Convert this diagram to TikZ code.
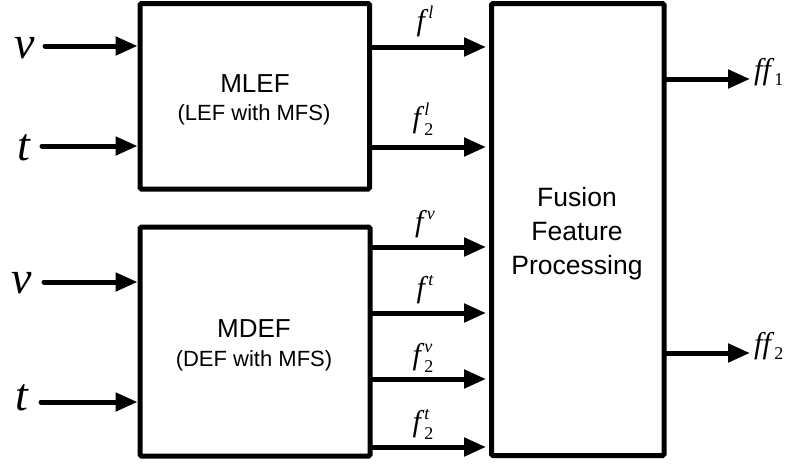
\documentclass[tikz,border=0pt]{standalone}
\usepackage{fontspec}
\setmainfont{Liberation Sans}
\newfontfamily\tms{Liberation Serif}
\usetikzlibrary{arrows.meta,calc}
\newcommand{\smallfnt}{\fontsize{18}{18}\selectfont\tms}
\newcommand{\fsup}[2]{{\tms\itshape #1\/}\raisebox{0.38em}{\smallfnt\itshape #2}}
\newcommand{\fsupsub}[3]{{\tms\itshape #1\/}\rlap{\raisebox{0.40em}{\smallfnt\itshape #2}}\raisebox{-0.28em}{\smallfnt #3}}
\newcommand{\ffsub}[1]{{\tms\itshape ff\/}\raisebox{-0.22em}{\smallfnt #1}}
\begin{document}
\begin{tikzpicture}[x=1pt,y=-1pt,
  box/.style={draw,line width=5pt,rounded corners=1.5pt,inner sep=0pt},
  arr/.style={line width=5pt,line cap=round,-{Triangle[length=22pt,width=18pt]}},
  invar/.style={inner sep=0pt,font=\fontsize{46}{46}\selectfont\tms\itshape},
  flab/.style={inner sep=0pt,font=\fontsize{30}{30}\selectfont},
  title/.style={inner sep=0pt,font=\fontsize{26}{26}\selectfont},
  subtitle/.style={inner sep=0pt,font=\fontsize{22}{22}\selectfont}]
\useasboundingbox (0,0) rectangle (794,463);

% boxes
\node[box,minimum width=229.5pt,minimum height=185.5pt] (mlef) at (254.75,96.25) {};
\node[box,minimum width=230pt,minimum height=229pt] (mdef) at (255,341.5) {};
\node[box,minimum width=172.5pt,minimum height=452pt] (fus) at (577.75,229.5) {};

% box texts
\node[title,anchor=base] (mleft) at (255,92) {MLEF};
\node[subtitle,anchor=base] (mlefs) at (254,120) {(LEF with MFS)};
\node[title,anchor=base] (mdeft) at (254,337) {MDEF};
\node[subtitle,anchor=base] (mdefs) at (254,366) {(DEF with MFS)};
\node[inner sep=0pt,align=center,font=\fontsize{26.5}{34}\selectfont] (fust) at (577,234) {Fusion\\Feature\\Processing};

% input labels
\node[invar,anchor=base] (v1) at (25,58) {v};
\node[invar,anchor=base] (t1) at (24,160) {t};
\node[invar,anchor=base] (v2) at (22,293) {v};
\node[invar,anchor=base] (t2) at (22,410) {t};

% input arrows
\coordinate (iv1) at (45,46);
\coordinate (it1) at (42,146);
\coordinate (iv2) at (44,282);
\coordinate (it2) at (41,402);
\draw[arr] (iv1) -- (iv1 -| mlef.west);
\draw[arr] (it1) -- (it1 -| mlef.west);
\draw[arr] (iv2) -- (iv2 -| mdef.west);
\draw[arr] (it2) -- (it2 -| mdef.west);

% intermediate arrows
\coordinate (o1) at (0,47);
\coordinate (o2) at (0,147);
\coordinate (o3) at (0,247);
\coordinate (o4) at (0,313);
\coordinate (o5) at (0,379);
\coordinate (o6) at (0,447);
\draw[arr,shorten >=3pt] (mlef.east |- o1) -- (fus.west |- o1);
\draw[arr,shorten >=3pt] (mlef.east |- o2) -- (fus.west |- o2);
\draw[arr,shorten >=3pt] (mdef.east |- o3) -- (fus.west |- o3);
\draw[arr,shorten >=3pt] (mdef.east |- o4) -- (fus.west |- o4);
\draw[arr,shorten >=3pt] (mdef.east |- o5) -- (fus.west |- o5);
\draw[arr,shorten >=3pt] (mdef.east |- o6) -- (fus.west |- o6);

% feature labels
\node[flab,anchor=base] (fl) at (425,30) {\fsup{f}{l}};
\node[flab,anchor=base] (fl2) at (423,127) {\fsupsub{f}{l}{2}};
\node[flab,anchor=base] (fv) at (425,231) {\fsup{f}{v}};
\node[flab,anchor=base] (ft) at (425,297) {\fsup{f}{t}};
\node[flab,anchor=base] (fv2) at (423,364) {\fsupsub{f}{v}{2}};
\node[flab,anchor=base] (ft2) at (423,431) {\fsupsub{f}{t}{2}};

% outputs
\node[flab,anchor=base west] (ff1) at (754,79) {\ffsub{1}};
\node[flab,anchor=base west] (ff2) at (754,353) {\ffsub{2}};
\draw[arr,shorten >=4pt] (fus.east |- ff1.base west) -- (ff1.base west);
\draw[arr,shorten >=4pt] (fus.east |- ff2.base west) -- (ff2.base west);
\end{tikzpicture}
\end{document}
